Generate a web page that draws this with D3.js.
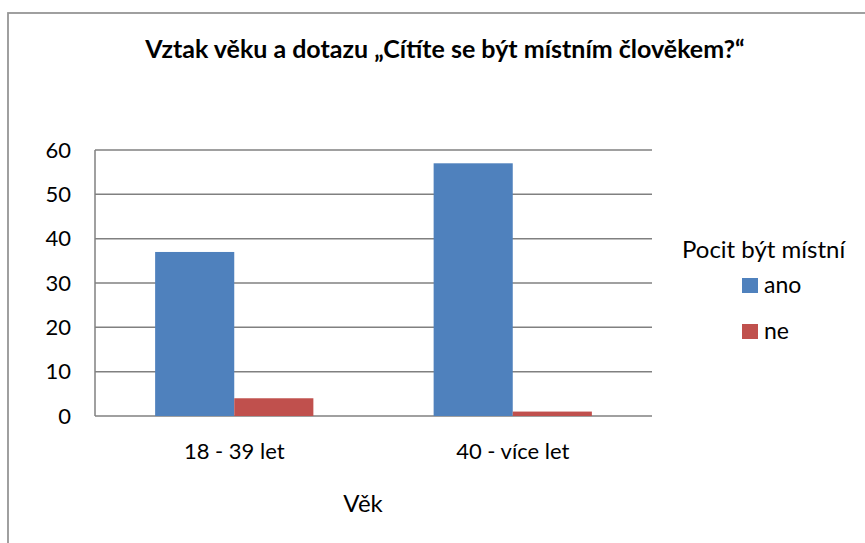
<!DOCTYPE html>
<meta charset="utf-8">
<script src="https://d3js.org/d3.v7.min.js"></script>
<style>
  body { margin: 0; background: #fff; }
  text { font-family: Lato, "Noto Sans", sans-serif; fill: #000; }
</style>
<div id="my_dataviz"></div>
<script>

  // data
  var groups = ["18 - 39 let", "40 - více let"]
  var seriesNames = ["ano", "ne"]
  var ano = [37, 57]
  var ne = [4, 1]
  var yTicks = [0, 10, 20, 30, 40, 50, 60]
  var colors = ["#4F81BD", "#C0504D"]

  var W = 865, H = 543
  var margin = {top: 150, left: 95, right: 213, bottom: 127}
  var width = W - margin.left - margin.right,
      height = H - margin.top - margin.bottom

  var svg = d3.select("#my_dataviz")
    .append("svg")
      .attr("width", W)
      .attr("height", H)

  // chart frame (right and bottom edges run off the picture)
  svg.append("rect")
    .attr("x", 8).attr("y", 13)
    .attr("width", W + 10).attr("height", H + 10)
    .attr("fill", "none")
    .attr("stroke", "#969696")
    .attr("stroke-width", 1.8)

  svg.append("text")
    .attr("x", 445).attr("y", 58)
    .attr("text-anchor", "middle")
    .style("font-weight", "bold")
    .style("font-size", "25px")
    .text("Vztak věku a dotazu „Cítíte se být místním člověkem?“")

  var g = svg.append("g")
    .attr("transform", "translate(" + margin.left + "," + margin.top + ")")

  var x0 = d3.scaleBand().domain(groups).range([0, width]).padding(0)
  var x1 = d3.scaleBand().domain(seriesNames)
    .range([0, x0.bandwidth()]).paddingInner(0).paddingOuter(0.76)
  var y = d3.scaleLinear().domain([0, 60]).range([height, 0])

  // gridlines
  g.selectAll(".grid")
    .data(yTicks)
    .enter().append("line")
      .attr("x1", 0).attr("x2", width)
      .attr("y1", function(d) { return y(d) })
      .attr("y2", function(d) { return y(d) })
      .attr("stroke", "#808080")
      .attr("stroke-width", 1.5)

  // left axis line
  g.append("line")
    .attr("x1", 0).attr("x2", 0)
    .attr("y1", 0).attr("y2", height)
    .attr("stroke", "#808080")
    .attr("stroke-width", 1.5)

  g.selectAll(".ytick")
    .data(yTicks)
    .enter().append("text")
      .attr("x", -24)
      .attr("y", function(d) { return y(d) })
      .attr("dy", "0.35em")
      .attr("text-anchor", "end")
      .style("font-size", "22px")
      .text(function(d) { return d })

  var rows = groups.map(function(gr, i) {
    return {group: gr, values: [{key: "ano", v: ano[i]}, {key: "ne", v: ne[i]}]}
  })

  var color = d3.scaleOrdinal().domain(seriesNames).range(colors)

  g.selectAll(".grp")
    .data(rows)
    .enter().append("g")
      .attr("transform", function(d) { return "translate(" + x0(d.group) + ",0)" })
    .selectAll("rect")
    .data(function(d) { return d.values })
    .enter().append("rect")
      .attr("x", function(d) { return x1(d.key) })
      .attr("y", function(d) { return y(d.v) })
      .attr("width", x1.bandwidth())
      .attr("height", function(d) { return height - y(d.v) })
      .attr("fill", function(d) { return color(d.key) })

  g.selectAll(".xlab")
    .data(groups)
    .enter().append("text")
      .attr("x", function(d) { return x0(d) + x0.bandwidth() / 2 })
      .attr("y", height + 35)
      .attr("dy", "0.35em")
      .attr("text-anchor", "middle")
      .style("font-size", "22px")
      .text(function(d) { return d })

  svg.append("text")
    .attr("x", 363).attr("y", 504)
    .attr("dy", "0.35em")
    .attr("text-anchor", "middle")
    .style("font-size", "24px")
    .text("Věk")

  // legend
  svg.append("text")
    .attr("x", 682).attr("y", 250)
    .attr("dy", "0.35em")
    .style("font-size", "24px")
    .text("Pocit být místní")

  var leg = svg.selectAll(".leg")
    .data(seriesNames)
    .enter().append("g")
      .attr("transform", function(d, i) { return "translate(742," + (285 + i * 46) + ")" })
  leg.append("rect")
    .attr("x", 0).attr("y", -7)
    .attr("width", 16).attr("height", 15)
    .attr("fill", function(d) { return color(d) })
  leg.append("text")
    .attr("x", 22).attr("y", 0)
    .attr("dy", "0.35em")
    .style("font-size", "23px")
    .text(function(d) { return d })

</script>
